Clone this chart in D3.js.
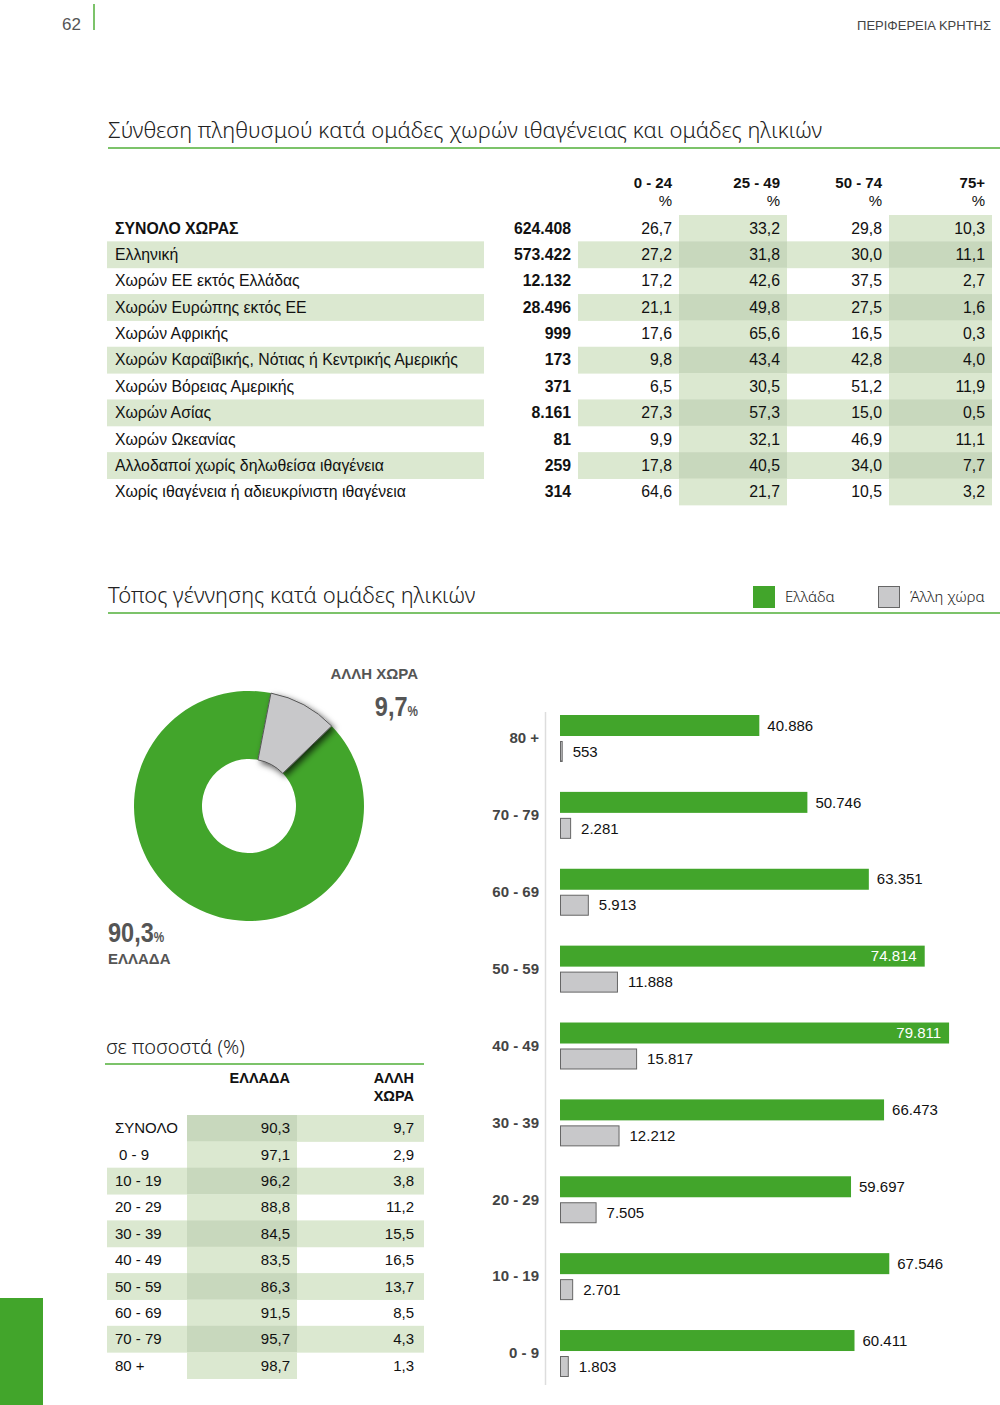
<!DOCTYPE html>
<html>
<head>
<meta charset="utf-8">
<script src="https://cdn.jsdelivr.net/npm/d3@7"></script>
<style>
body { margin: 0; background: #fff; }
text { font-family: "Liberation Sans", Arial, sans-serif; }
.ttl { font-family: "Noto Sans", sans-serif; font-weight: 300; fill: #222; }
</style>
</head>
<body>
<div id="page"></div>
<script>
// ---- data: top table (population by citizenship & age group)
var origins = ["ΣΥΝΟΛΟ ΧΩΡΑΣ", "Ελληνική", "Χωρών ΕΕ εκτός Ελλάδας", "Χωρών Ευρώπης εκτός ΕΕ",
  "Χωρών Αφρικής", "Χωρών Καραϊβικής, Νότιας ή Κεντρικής Αμερικής", "Χωρών Βόρειας Αμερικής",
  "Χωρών Ασίας", "Χωρών Ωκεανίας", "Αλλοδαποί χωρίς δηλωθείσα ιθαγένεια",
  "Χωρίς ιθαγένεια ή αδιευκρίνιστη ιθαγένεια"];
var originTotals = [624408, 573422, 12132, 28496, 999, 173, 371, 8161, 81, 259, 314];
var ageCols = ["0 - 24", "25 - 49", "50 - 74", "75+"];
var pct0_24  = [26.7, 27.2, 17.2, 21.1, 17.6, 9.8, 6.5, 27.3, 9.9, 17.8, 64.6];
var pct25_49 = [33.2, 31.8, 42.6, 49.8, 65.6, 43.4, 30.5, 57.3, 32.1, 40.5, 21.7];
var pct50_74 = [29.8, 30.0, 37.5, 27.5, 16.5, 42.8, 51.2, 15.0, 46.9, 34.0, 10.5];
var pct75    = [10.3, 11.1, 2.7, 1.6, 0.3, 4.0, 11.9, 0.5, 11.1, 7.7, 3.2];

// ---- data: place of birth by age group
var birthGroups = ["80 +", "70 - 79", "60 - 69", "50 - 59", "40 - 49", "30 - 39", "20 - 29", "10 - 19", "0 - 9"];
var bornGreece = [40886, 50746, 63351, 74814, 79811, 66473, 59697, 67546, 60411];
var bornOther  = [553, 2281, 5913, 11888, 15817, 12212, 7505, 2701, 1803];

// ---- data: percentages table + donut
var shareGroups = ["ΣΥΝΟΛΟ", "0 - 9", "10 - 19", "20 - 29", "30 - 39", "40 - 49", "50 - 59", "60 - 69", "70 - 79", "80 +"];
var shareGreece = [90.3, 97.1, 96.2, 88.8, 84.5, 83.5, 86.3, 91.5, 95.7, 98.7];
var shareOther  = [9.7, 2.9, 3.8, 11.2, 15.5, 16.5, 13.7, 8.5, 4.3, 1.3];
var donutLabels = ["ΑΛΛΗ ΧΩΡΑ", "ΕΛΛΑΔΑ"];

var GREEN = "#42a52b", RULE = "#7cc36a", LIGHT = "#dbe8d0", DARK = "#c8d8bd";

var gr = d3.formatLocale({decimal: ",", thousands: ".", grouping: [3], currency: ["", "€"]});
var fmtInt = gr.format(",d");
var fmt1 = gr.format(".1f");

var svg = d3.select("#page").append("svg")
  .attr("width", 1000)
  .attr("height", 1405);

var defs = svg.append("defs");
defs.append("filter").attr("id", "shadow")
  .attr("x", "-50%").attr("y", "-50%").attr("width", "200%").attr("height", "200%")
  .append("feDropShadow")
  .attr("dx", 3).attr("dy", 3).attr("stdDeviation", 3)
  .attr("flood-color", "#000").attr("flood-opacity", 0.7);

// ---- page header
svg.append("text").attr("x", 62).attr("y", 30).attr("font-size", 17).attr("fill", "#555").text("62");
svg.append("line").attr("x1", 94).attr("x2", 94).attr("y1", 4).attr("y2", 30)
  .attr("stroke", RULE).attr("stroke-width", 2);
svg.append("text").attr("x", 991).attr("y", 30).attr("text-anchor", "end")
  .attr("font-size", 13).attr("fill", "#444")
  .style("font-family", "'Liberation Sans Narrow', 'Liberation Sans', Arial")
  .text("ΠΕΡΙΦΕΡΕΙΑ ΚΡΗΤΗΣ");

// section titles with green rule
function sectionTitle(txt, x, y, size, x2) {
  svg.append("text").attr("class", "ttl").attr("x", x).attr("y", y).attr("font-size", size).text(txt);
  svg.append("line").attr("x1", x).attr("x2", x2).attr("y1", y + 10).attr("y2", y + 10)
    .attr("stroke", RULE).attr("stroke-width", 2);
}
sectionTitle("Σύνθεση πληθυσμού κατά ομάδες χωρών ιθαγένειας και ομάδες ηλικιών", 108, 138, 22, 1000);
sectionTitle("Τόπος γέννησης κατά ομάδες ηλικιών", 108, 603, 22, 1000);

// ==============================
// Top table
// ==============================
var rowH = 26.35, tableTop = 215, tFont = 15.8;
var colEdges = [107, 484, 578, 679, 787, 889, 992];
var colShade = [false, false, false, true, false, true];
var pctCols = [pct0_24, pct25_49, pct50_74, pct75];
var tTable = svg.append("g");

origins.forEach(function(name, i) {
  var y0 = tableTop + i * rowH;
  var rowShade = i % 2 === 1;
  for (var c = 0; c < 6; c++) {
    var fill = null;
    if (c === 0) fill = rowShade ? LIGHT : null;
    else if (c === 1) fill = null;
    else if (rowShade && colShade[c]) fill = DARK;
    else if (rowShade || colShade[c]) fill = LIGHT;
    if (fill) {
      tTable.append("rect").attr("x", colEdges[c]).attr("y", y0)
        .attr("width", colEdges[c + 1] - colEdges[c]).attr("height", rowH + 0.5)
        .attr("fill", fill);
    }
  }
});

origins.forEach(function(name, i) {
  var cy = tableTop + i * rowH + rowH / 2;
  tTable.append("text").attr("x", 115).attr("y", cy).attr("dy", "0.35em")
    .attr("font-size", tFont).attr("fill", "#111")
    .attr("font-weight", i === 0 ? "bold" : "normal").text(name);
  tTable.append("text").attr("x", 571).attr("y", cy).attr("dy", "0.35em")
    .attr("text-anchor", "end").attr("font-size", tFont).attr("font-weight", "bold").attr("fill", "#111")
    .text(fmtInt(originTotals[i]));
  pctCols.forEach(function(col, c) {
    tTable.append("text").attr("x", colEdges[c + 3] - 7).attr("y", cy).attr("dy", "0.35em")
      .attr("text-anchor", "end").attr("font-size", tFont).attr("fill", "#111")
      .text(fmt1(col[i]));
  });
});

ageCols.forEach(function(lbl, c) {
  var xr = colEdges[c + 3] - 7;
  tTable.append("text").attr("x", xr).attr("y", 188).attr("text-anchor", "end")
    .attr("font-size", 15).attr("font-weight", "bold").attr("fill", "#111").text(lbl);
  tTable.append("text").attr("x", xr).attr("y", 206).attr("text-anchor", "end")
    .attr("font-size", 15).attr("fill", "#111").text("%");
});

// ---- legend
var legend = svg.append("g");
legend.append("rect").attr("x", 753).attr("y", 586).attr("width", 22).attr("height", 22).attr("fill", GREEN);
legend.append("text").attr("class", "ttl").attr("x", 785).attr("y", 602).attr("font-size", 15).text("Ελλάδα");
legend.append("rect").attr("x", 878.5).attr("y", 586.5).attr("width", 21).attr("height", 21)
  .attr("fill", "#c9c9cb").attr("stroke", "#666");
legend.append("text").attr("class", "ttl").attr("x", 910).attr("y", 602).attr("font-size", 15).text("Άλλη χώρα");

// ==============================
// Donut
// ==============================
var donutData = [{name: donutLabels[0], v: shareOther[0]}, {name: donutLabels[1], v: shareGreece[0]}];
var startA = 11 * Math.PI / 180;
var pie = d3.pie().sort(null).value(d => d.v).startAngle(startA).endAngle(startA + 2 * Math.PI);
var arc = d3.arc().innerRadius(47).outerRadius(115);
var donut = svg.append("g").attr("transform", "translate(249,806)");
var arcs = pie(donutData);
donut.append("path").attr("d", arc(arcs[1])).attr("fill", GREEN);
donut.append("path").attr("d", arc(arcs[0])).attr("fill", "#c8c8ca")
  .attr("stroke", "#555").attr("stroke-width", 1).attr("filter", "url(#shadow)");

// big condensed percentages: squeeze horizontally around their anchor
function bigPct(x, y, val, anchor) {
  var g = svg.append("g").attr("transform", `translate(${x},${y}) scale(0.84,1)`);
  var t = g.append("text").attr("text-anchor", anchor).attr("font-weight", "bold").attr("fill", "#555");
  t.append("tspan").attr("font-size", 28).text(fmt1(val));
  t.append("tspan").attr("font-size", 14).text("%");
}
svg.append("text").attr("x", 418).attr("y", 679).attr("text-anchor", "end")
  .attr("font-size", 15).attr("font-weight", "bold").attr("fill", "#555").text(donutLabels[0]);
bigPct(418, 716, shareOther[0], "end");
bigPct(108, 942, shareGreece[0], "start");
svg.append("text").attr("x", 108).attr("y", 964)
  .attr("font-size", 15).attr("font-weight", "bold").attr("fill", "#555").text(donutLabels[1]);

// ==============================
// Percentage table (bottom left)
// ==============================
svg.append("text").attr("class", "ttl").attr("x", 106).attr("y", 1054).attr("font-size", 20).text("σε ποσοστά (%)");
svg.append("line").attr("x1", 105).attr("x2", 424).attr("y1", 1064).attr("y2", 1064)
  .attr("stroke", RULE).attr("stroke-width", 2);

var bTop = 1115, bEdges = [107, 187, 297, 424];
var bTable = svg.append("g");
shareGroups.forEach(function(g, i) {
  var y0 = bTop + i * rowH;
  var rowShade = i % 2 === 0;
  if (rowShade && i > 0) bTable.append("rect").attr("x", bEdges[0]).attr("y", y0)
    .attr("width", bEdges[1] - bEdges[0]).attr("height", rowH + 0.5).attr("fill", LIGHT);
  bTable.append("rect").attr("x", bEdges[1]).attr("y", y0)
    .attr("width", bEdges[2] - bEdges[1]).attr("height", rowH + 0.5).attr("fill", rowShade ? DARK : LIGHT);
  if (rowShade) bTable.append("rect").attr("x", bEdges[2]).attr("y", y0)
    .attr("width", bEdges[3] - bEdges[2]).attr("height", rowH + 0.5).attr("fill", LIGHT);
});
shareGroups.forEach(function(g, i) {
  var cy = bTop + i * rowH + rowH / 2;
  bTable.append("text").attr("x", i === 1 ? 119 : 115).attr("y", cy).attr("dy", "0.35em")
    .attr("font-size", 15).attr("fill", "#111").text(g);
  bTable.append("text").attr("x", 290).attr("y", cy).attr("dy", "0.35em").attr("text-anchor", "end")
    .attr("font-size", 15).attr("fill", "#111").text(fmt1(shareGreece[i]));
  bTable.append("text").attr("x", 414).attr("y", cy).attr("dy", "0.35em").attr("text-anchor", "end")
    .attr("font-size", 15).attr("fill", "#111").text(fmt1(shareOther[i]));
});
bTable.append("text").attr("x", 290).attr("y", 1083).attr("text-anchor", "end")
  .attr("font-size", 14.5).attr("font-weight", "bold").attr("fill", "#111").text("ΕΛΛΑΔΑ");
bTable.append("text").attr("x", 414).attr("y", 1083).attr("text-anchor", "end")
  .attr("font-size", 14.5).attr("font-weight", "bold").attr("fill", "#111").text("ΑΛΛΗ");
bTable.append("text").attr("x", 414).attr("y", 1101).attr("text-anchor", "end")
  .attr("font-size", 14.5).attr("font-weight", "bold").attr("fill", "#111").text("ΧΩΡΑ");

// ==============================
// Horizontal grouped bars
// ==============================
var barX0 = 560;
var xScale = d3.scaleLinear().domain([0, 80000]).range([0, 390]);
var yGroup = d3.scaleBand().domain(birthGroups).range([715, 1377]).paddingInner(0.389).paddingOuter(0).align(0);
var ySub = d3.scaleBand().domain(["gr", "ot"]).range([0, yGroup.bandwidth()]).paddingInner(0.192);

var chart = svg.append("g");
chart.append("line").attr("x1", 545.5).attr("x2", 545.5).attr("y1", 712).attr("y2", 1385)
  .attr("stroke", "#ddd").attr("stroke-width", 1.5);

var yAxis = chart.append("g").attr("transform", "translate(545,0)")
  .call(d3.axisLeft(yGroup).tickSize(0).tickPadding(6));
yAxis.select(".domain").remove();
yAxis.selectAll("text").attr("font-size", 15).attr("font-weight", "bold").attr("fill", "#444")
  .style("font-family", "'Liberation Sans', Arial");

var groups = chart.selectAll(".grp").data(birthGroups).enter().append("g")
  .attr("class", "grp")
  .attr("transform", d => `translate(${barX0},${yGroup(d)})`);

groups.append("rect")
  .attr("y", ySub("gr")).attr("height", ySub.bandwidth())
  .attr("width", (d, i) => xScale(bornGreece[i]))
  .attr("fill", GREEN);
groups.append("rect")
  .attr("x", 0.5)
  .attr("y", ySub("ot") + 0.5).attr("height", ySub.bandwidth() - 1)
  .attr("width", (d, i) => Math.max(1, xScale(bornOther[i]) - 1))
  .attr("fill", "#c8c8ca").attr("stroke", "#666");

var inside = v => xScale(v) > 350;
groups.append("text")
  .attr("x", (d, i) => inside(bornGreece[i]) ? xScale(bornGreece[i]) - 8 : xScale(bornGreece[i]) + 8)
  .attr("y", ySub("gr") + ySub.bandwidth() / 2).attr("dy", "0.35em")
  .attr("text-anchor", (d, i) => inside(bornGreece[i]) ? "end" : "start")
  .attr("fill", (d, i) => inside(bornGreece[i]) ? "#fff" : "#111")
  .attr("font-size", 15)
  .text((d, i) => fmtInt(bornGreece[i]));
groups.append("text")
  .attr("x", (d, i) => xScale(bornOther[i]) + 10)
  .attr("y", ySub("ot") + ySub.bandwidth() / 2).attr("dy", "0.35em")
  .attr("fill", "#111").attr("font-size", 15)
  .text((d, i) => fmtInt(bornOther[i]));

// green page tab bottom left
svg.append("rect").attr("x", 0).attr("y", 1298).attr("width", 43).attr("height", 107).attr("fill", GREEN);
</script>
</body>
</html>
